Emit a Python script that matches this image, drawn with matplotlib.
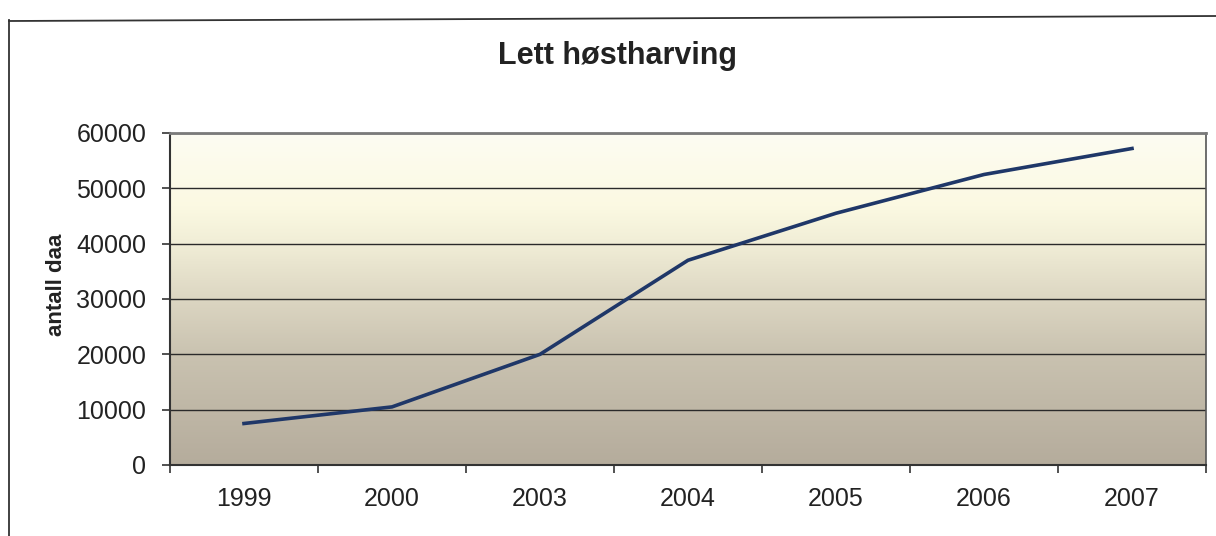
import matplotlib
matplotlib.use("Agg")
import matplotlib.pyplot as plt
import numpy as np
from matplotlib.colors import LinearSegmentedColormap
from matplotlib.lines import Line2D

years = ["1999", "2000", "2003", "2004", "2005", "2006", "2007"]
values = [7500, 10500, 20000, 37000, 45500, 52500, 57200]
title = "Lett høstharving"
ylabel = "antall daa"

plt.rcParams['font.family'] = ['Liberation Sans', 'DejaVu Sans']

fig = plt.figure(figsize=(12.16, 5.36), dpi=100)
ax = fig.add_axes([170/1216, 1-465/536, (1206-170)/1216, (465-133)/536])

# gradient background (bottom -> top)
cmap = LinearSegmentedColormap.from_list("bg", [
    (0.0, "#b5ac9c"),
    (0.33, "#c9c2b0"),
    (0.50, "#dcd6c2"),
    (0.67, "#f1eed7"),
    (0.78, "#fbf9e2"),
    (1.0, "#fdfcf2"),
])
grad = np.linspace(0, 1, 256).reshape(-1, 1)
ax.imshow(grad, aspect="auto", cmap=cmap, origin="lower",
          extent=[-0.5, 6.5, 0, 60000], zorder=0)

x = np.arange(len(years))
ax.set_xlim(-0.5, 6.5)
ax.set_ylim(0, 60000)
ax.set_yticks(np.arange(0, 60001, 10000))
for yv in range(10000, 60001, 10000):
    ax.axhline(yv, color="#2a2a2a", lw=1.0, zorder=1)

ax.plot(x, values, color="#1f3768", lw=2.6, zorder=3, solid_joinstyle="round")

ax.set_xticks(np.arange(-0.5, 7, 1.0))
ax.set_xticklabels([])
ax.set_xticks(x, minor=True)
ax.set_xticklabels(years, minor=True)
ax.tick_params(axis="x", which="major", direction="out", length=6, width=1.2, color="#333333")
ax.tick_params(axis="x", which="minor", length=0, pad=16, labelsize=18, labelcolor="#222222")
ax.tick_params(axis="y", direction="out", length=6, width=1.2, color="#333333",
               pad=11, labelsize=18, labelcolor="#222222")

for s in ["left", "bottom"]:
    ax.spines[s].set_color("#333333")
    ax.spines[s].set_linewidth(1.5)
ax.spines["top"].set_color("#7a7a7a")
ax.spines["top"].set_linewidth(2.0)
ax.spines["right"].set_color("#555555")
ax.spines["right"].set_linewidth(1.2)

fig.text(617/1216, 1-56/536, title, ha="center", va="center",
         fontsize=22, fontweight="bold", color="#222222")
fig.text(57/1216, 1-285/536, ylabel, ha="center", va="center", rotation=90,
         fontsize=16, fontweight="bold", color="#222222")

# outer chart frame (top and left edges visible)
fig.add_artist(Line2D([9/1216, 9/1216], [0, 1-20/536], transform=fig.transFigure,
                      color="#333333", lw=1.3))
fig.add_artist(Line2D([9/1216, 1.0], [1-21/536, 1-16/536], transform=fig.transFigure,
                      color="#333333", lw=1.3))

fig.savefig("out.png", dpi=100)
